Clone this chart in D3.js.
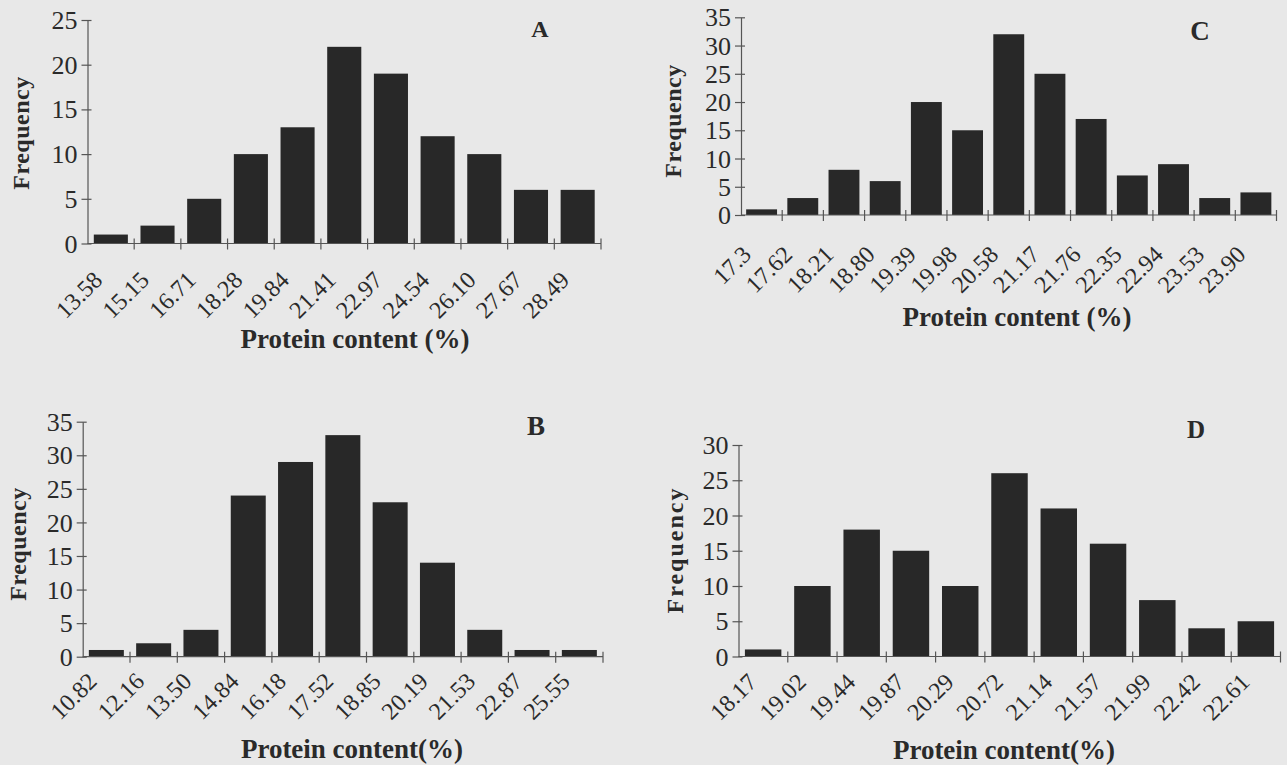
<!DOCTYPE html>
<html>
<head>
<meta charset="utf-8">
<script src="https://cdn.jsdelivr.net/npm/d3@7"></script>
<style>
  html, body { margin: 0; padding: 0; background: #e8e8e8; }
  svg { display: block; }
  text { font-family: "Liberation Serif", "Times New Roman", serif; fill: #2a2a2a; }
</style>
</head>
<body>
<div id="chart"></div>
<script>
// bins (lower class limits) and frequencies
const binsA = ["13.58", "15.15", "16.71", "18.28", "19.84", "21.41", "22.97", "24.54", "26.10", "27.67", "28.49"];
const freqA = [1, 2, 5, 10, 13, 22, 19, 12, 10, 6, 6];
const ticksA = [0, 5, 10, 15, 20, 25];

const binsB = ["10.82", "12.16", "13.50", "14.84", "16.18", "17.52", "18.85", "20.19", "21.53", "22.87", "25.55"];
const freqB = [1, 2, 4, 24, 29, 33, 23, 14, 4, 1, 1];
const ticksB = [0, 5, 10, 15, 20, 25, 30, 35];

const binsC = ["17.3", "17.62", "18.21", "18.80", "19.39", "19.98", "20.58", "21.17", "21.76", "22.35", "22.94", "23.53", "23.90"];
const freqC = [1, 3, 8, 6, 20, 15, 32, 25, 17, 7, 9, 3, 4];
const ticksC = [0, 5, 10, 15, 20, 25, 30, 35];

const binsD = ["18.17", "19.02", "19.44", "19.87", "20.29", "20.72", "21.14", "21.57", "21.99", "22.42", "22.61"];
const freqD = [1, 10, 18, 15, 10, 26, 21, 16, 8, 4, 5];
const ticksD = [0, 5, 10, 15, 20, 25, 30];

document.addEventListener("DOMContentLoaded", setup)

function setup(){
    const svg = d3.select("#chart").append("svg")
        .attr("width", 1287)
        .attr("height", 765);

    // panel geometry: plot box, label offsets and text placement
    drawHistogram(svg, binsA, freqA, ticksA, {
        x0: 87.5, x1: 601, y0: 243.5, yTop: 20, pad: 0.27,
        lx: -7, ly: 38, letter: "A", letterPos: [540, 37], letterSize: 24,
        title: "Protein content (%)", titlePos: [355, 348],
        yTitlePos: [21, 133], ySpacing: 0.5
    });
    drawHistogram(svg, binsC, freqC, ticksC, {
        x0: 741, x1: 1276.5, y0: 215, yTop: 17.3, pad: 0.25,
        lx: -9, ly: 41, letter: "C", letterPos: [1200, 40], letterSize: 27,
        title: "Protein content (%)", titlePos: [1017, 326],
        yTitlePos: [673, 121], ySpacing: 0.5
    });
    drawHistogram(svg, binsB, freqB, ticksB, {
        x0: 82.7, x1: 603, y0: 656.7, yTop: 421.7, pad: 0.26,
        lx: -8, ly: 26, letter: "B", letterPos: [536, 435], letterSize: 27,
        title: "Protein content(%)", titlePos: [352, 758],
        yTitlePos: [18, 544], ySpacing: 0.5
    });
    drawHistogram(svg, binsD, freqD, ticksD, {
        x0: 738.5, x1: 1280.5, y0: 656.5, yTop: 445, pad: 0.26,
        lx: -5, ly: 27, letter: "D", letterPos: [1196, 438], letterSize: 25,
        title: "Protein content(%)", titlePos: [1004, 759],
        yTitlePos: [675, 550], ySpacing: 2
    });
}

function drawHistogram(svg, bins, freq, ticks, p){
    const g = svg.append("g");
    const x = d3.scaleBand()
        .domain(bins)
        .range([p.x0, p.x1])
        .paddingInner(p.pad)
        .paddingOuter(p.pad / 2);
    const y = d3.scaleLinear()
        .domain([0, d3.max(ticks)])
        .range([p.y0, p.yTop]);
    const half = x.step() * p.pad / 2;

    g.selectAll("rect")
        .data(bins)
        .enter()
        .append("rect")
        .attr("x", d => x(d))
        .attr("y", (d, i) => y(freq[i]))
        .attr("width", x.bandwidth())
        .attr("height", (d, i) => p.y0 - y(freq[i]))
        .attr("fill", "#282828");

    // y axis, ticks cross the line
    const yAxis = g.append("g")
        .attr("transform", `translate(${p.x0},0)`)
        .call(d3.axisLeft(y).tickValues(ticks).tickSizeInner(6).tickSizeOuter(0).tickPadding(4));
    yAxis.select(".domain").attr("stroke", "#555").attr("stroke-width", 1.2);
    yAxis.selectAll(".tick line").attr("x1", 4).attr("stroke", "#555").attr("stroke-width", 1.2);
    yAxis.selectAll(".tick text")
        .style("font-family", '"Liberation Serif", serif')
        .style("font-size", "26px")
        .attr("fill", "#2a2a2a")
        .attr("dy", "0.33em");

    // x axis with ticks at the class boundaries
    g.append("line")
        .attr("x1", p.x0).attr("x2", p.x1)
        .attr("y1", p.y0).attr("y2", p.y0)
        .attr("stroke", "#555").attr("stroke-width", 1.2);
    g.selectAll(".xtick")
        .data(bins)
        .enter()
        .append("line")
        .attr("class", "xtick")
        .attr("x1", d => x(d) + x.bandwidth() + half)
        .attr("x2", d => x(d) + x.bandwidth() + half)
        .attr("y1", p.y0 - 5).attr("y2", p.y0 + 6)
        .attr("stroke", "#555").attr("stroke-width", 1.2);
    g.selectAll(".xlabel")
        .data(bins)
        .enter()
        .append("text")
        .attr("class", "xlabel")
        .attr("text-anchor", "end")
        .attr("transform", d => `translate(${x(d) + x.bandwidth() / 2 + p.lx},${p.y0 + p.ly}) rotate(-45)`)
        .style("font-size", "24px")
        .text(d => d);

    g.append("text")
        .attr("x", p.titlePos[0]).attr("y", p.titlePos[1])
        .attr("text-anchor", "middle")
        .style("font-size", "27px")
        .style("font-weight", "bold")
        .text(p.title);

    g.append("text")
        .attr("transform", `translate(${p.yTitlePos[0]},${p.yTitlePos[1]}) rotate(-90)`)
        .attr("text-anchor", "middle")
        .attr("dy", "0.35em")
        .style("font-size", "24px")
        .style("font-weight", "bold")
        .style("letter-spacing", p.ySpacing + "px")
        .text("Frequency");

    g.append("text")
        .attr("x", p.letterPos[0]).attr("y", p.letterPos[1])
        .attr("text-anchor", "middle")
        .style("font-size", p.letterSize + "px")
        .style("font-weight", "bold")
        .text(p.letter);
}
</script>
</body>
</html>
